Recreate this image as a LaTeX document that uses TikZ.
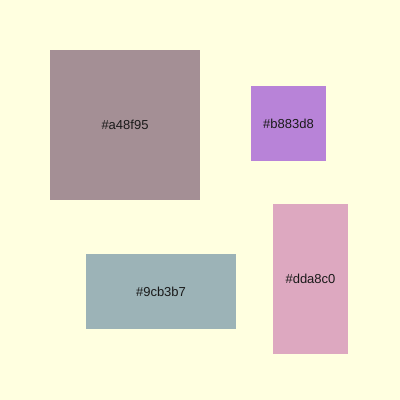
\documentclass[tikz,border=0pt]{standalone}
\usepackage{fontspec}
\setmainfont{Liberation Sans}
\definecolor{bgyellow}{HTML}{FFFFE0}
\definecolor{boxa}{HTML}{A48F95}
\definecolor{boxb}{HTML}{B883D8}
\definecolor{boxc}{HTML}{DDA8C0}
\definecolor{boxd}{HTML}{9CB3B7}
\definecolor{labeltext}{HTML}{1A1A1A}
\begin{document}
\begin{tikzpicture}[x=1pt,y=-1pt]
\tikzstyle{every node}+=[inner sep=0pt, outer sep=0pt, font=\fontsize{13}{15}\selectfont, text=labeltext]
\tikzstyle{swatch}=[draw=none, rectangle]
\fill [bgyellow] (0,0) rectangle (400,400);
\useasboundingbox (0,0) rectangle (400,400);
\node [swatch, fill=boxa, minimum width=150pt, minimum height=150pt] (sa) at (125,125) {\#a48f95};
\node [swatch, fill=boxb, minimum width=75pt, minimum height=75pt] (sb) at (288.5,123.5) {\#b883d8};
\node [swatch, fill=boxc, minimum width=75pt, minimum height=150pt] (sc) at (310.5,279) {\#dda8c0};
\node [swatch, fill=boxd, minimum width=150pt, minimum height=75pt] (sd) at (161,291.5) {\#9cb3b7};
\end{tikzpicture}
\end{document}
